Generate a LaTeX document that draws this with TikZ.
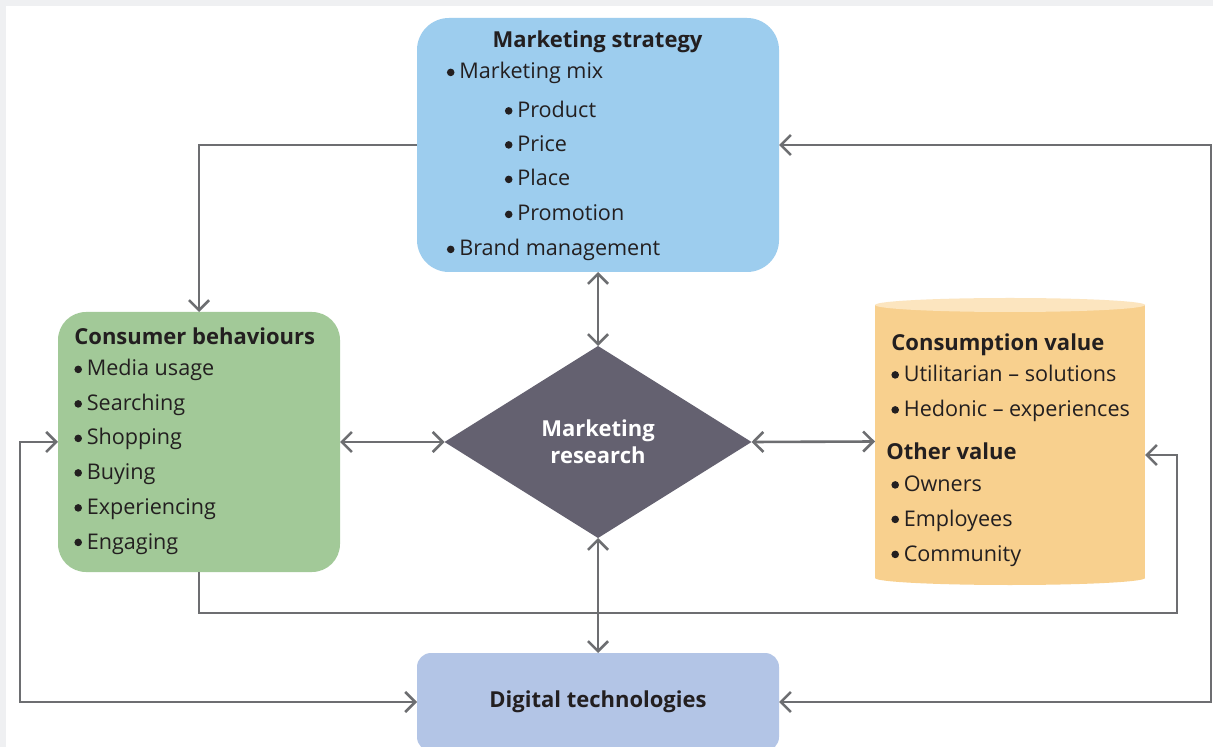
\documentclass[tikz,border=0pt]{standalone}
\usepackage{fontspec}
\setmainfont{Open Sans}
\usetikzlibrary{arrows.meta,shapes.geometric}
\definecolor{bgray}{HTML}{EFF0F2}
\definecolor{stratblue}{HTML}{9DCDEE}
\definecolor{consgreen}{HTML}{A2C998}
\definecolor{valorange}{HTML}{F8D08E}
\definecolor{valtop}{HTML}{FCE5BF}
\definecolor{digiblue}{HTML}{B3C5E6}
\definecolor{diamgray}{HTML}{646170}
\definecolor{linegray}{HTML}{6D6E71}
\definecolor{txt}{HTML}{231F20}
\newcommand{\bul}{\tikz[baseline=-3.3pt]\fill[txt] (0,0) circle[radius=1.9pt];\kern2.4pt}
\begin{document}
\begin{tikzpicture}[x=0.5pt,y=-0.5pt,
  >={Straight Barb[length=5pt,width=10pt]},
  conn/.style={draw=linegray,line width=1.3pt},
  box/.style={inner sep=0pt,outer sep=0pt,draw=none},
  lbl/.style={anchor=base west,inner sep=0pt,text=txt,font=\fontsize{10.8}{13.5}\selectfont},
  ttl/.style={lbl,font=\fontsize{11}{13.5}\selectfont\bfseries},
]
\useasboundingbox (0,0) rectangle (1213,747);
\clip (0,0) rectangle (1213,747);
\fill[bgray] (0,0) rectangle (1213,747);
\fill[white] (6,6) rectangle (1213,747);

% boxes
\node[box,fill=stratblue,rounded corners=16pt,minimum width=181pt,minimum height=127pt] (ms) at (598,145) {};
\node[box,fill=consgreen,rounded corners=14pt,minimum width=141pt,minimum height=130pt] (cb) at (199,442) {};
\node[box,diamond,fill=diamgray,minimum width=153.5pt,minimum height=96pt,text=white,align=center,
      font=\fontsize{11}{13.5}\selectfont\bfseries] (mr) at (598,442) {Marketing\\research};
\node[box,fill=valorange,minimum width=135pt,minimum height=136.5pt] (cv) at (1010,441.5) {};
\fill[valorange] (cv.south) ellipse [x radius=67.5pt,y radius=3.5pt];
\fill[valtop] (cv.north) ellipse [x radius=67.5pt,y radius=3.5pt];
\node[box,fill=digiblue,rounded corners=7pt,minimum width=181pt,minimum height=49pt,text=txt,
      font=\fontsize{11}{13.5}\selectfont\bfseries] (dt) at (598,702) {Digital technologies};

% texts: marketing strategy
\node[ttl,anchor=base] (mst) at (597.5,47.5) {Marketing strategy};
\node[lbl] (ms1) at (446.5,79) {\bul Marketing mix};
\node[lbl] (ms2) at (504.5,117.5) {\bul Product};
\node[lbl] (ms3) at (504.5,151.5) {\bul Price};
\node[lbl] (ms4) at (504.5,186) {\bul Place};
\node[lbl] (ms5) at (504.5,221) {\bul Promotion};
\node[lbl] (ms6) at (446.5,256) {\bul Brand management};

% texts: consumer behaviours
\node[ttl] (cbt) at (74,344.5) {Consumer behaviours};
\node[lbl] (cb1) at (74,376) {\bul Media usage};
\node[lbl] (cb2) at (74,410.5) {\bul Searching};
\node[lbl] (cb3) at (74,445) {\bul Shopping};
\node[lbl] (cb4) at (74,479.5) {\bul Buying};
\node[lbl] (cb5) at (74,514.5) {\bul Experiencing};
\node[lbl] (cb6) at (74,549) {\bul Engaging};

% texts: values
\node[ttl] (cvt) at (891,350.5) {Consumption value};
\node[lbl] (cv1) at (891,381.5) {\bul Utilitarian -- solutions};
\node[lbl] (cv2) at (891,416.5) {\bul Hedonic -- experiences};
\node[ttl] (ovt) at (886,459.5) {Other value};
\node[lbl] (ov1) at (891,491.5) {\bul Owners};
\node[lbl] (ov2) at (891,526) {\bul Employees};
\node[lbl] (ov3) at (891,561) {\bul Community};

% connectors
\coordinate (rc) at (1211,145);
\coordinate (lc) at (20,442);
\coordinate (br) at (1177,613);
\coordinate (cvin) at ([yshift=-6.75pt]cv.east);
\draw[conn,->] (ms.west) -| (cb.north);
\draw[conn,<->] (ms.east) -- (rc) |- (dt.east);
\draw[conn,<->] (cb.east) -- (mr.west);
\draw[conn,<->] (mr.east) -- (cv.west);
\draw[conn,<->] (ms.south) -- (mr.north);
\draw[conn,<->] (mr.south) -- (dt.north);
\draw[conn,->] (cb.south) |- (br) |- (cvin);
\draw[conn,<->] (cb.west) -- (lc) |- (dt.west);
\end{tikzpicture}
\end{document}
